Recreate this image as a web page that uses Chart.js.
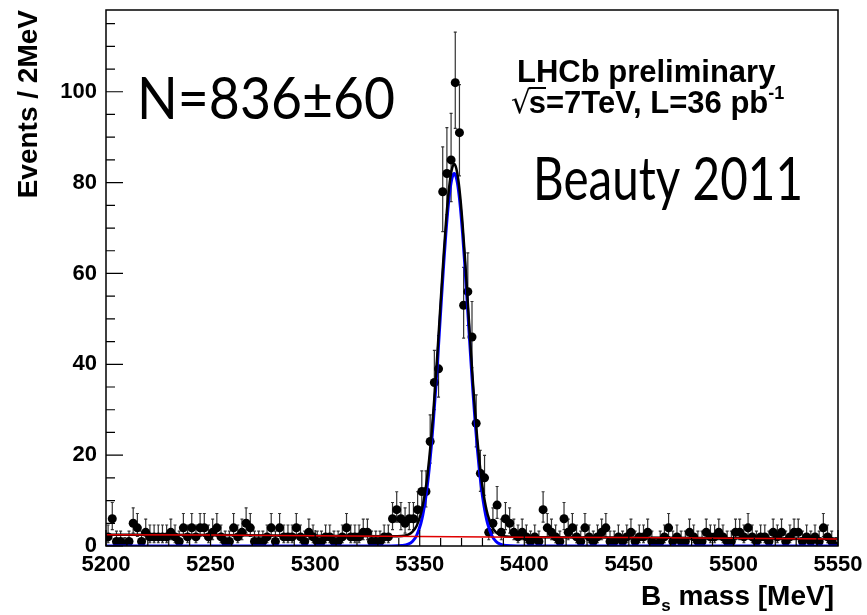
<!DOCTYPE html>
<html>
<head>
<meta charset="utf-8">
<script src="https://cdn.jsdelivr.net/npm/chart.js@4.4.1/dist/chart.umd.min.js"></script>
<style>
  html, body { margin: 0; padding: 0; background: #fff; }
  #wrap { width: 867px; height: 615px; }
</style>
</head>
<body>
<div id="wrap"><canvas id="bsMassChart" width="867" height="615"></canvas></div>
<script>
// --- bin centres (2 MeV bins, 5200 -> 5550) ---
const binCenters = [
  5201,5203,5205,5207,5209,5211,5213,5215,5217,5219,5221,5223,5225,5227,5229,5231,5233,5235,5237,5239,5241,5243,5245,5247,5249,
  5251,5253,5255,5257,5259,5261,5263,5265,5267,5269,5271,5273,5275,5277,5279,5281,5283,5285,5287,5289,5291,5293,5295,5297,5299,
  5301,5303,5305,5307,5309,5311,5313,5315,5317,5319,5321,5323,5325,5327,5329,5331,5333,5335,5337,5339,5341,5343,5345,5347,5349,
  5351,5353,5355,5357,5359,5361,5363,5365,5367,5369,5371,5373,5375,5377,5379,5381,5383,5385,5387,5389,5391,5393,5395,5397,5399,
  5401,5403,5405,5407,5409,5411,5413,5415,5417,5419,5421,5423,5425,5427,5429,5431,5433,5435,5437,5439,5441,5443,5445,5447,5449,
  5451,5453,5455,5457,5459,5461,5463,5465,5467,5469,5471,5473,5475,5477,5479,5481,5483,5485,5487,5489,5491,5493,5495,5497,5499,
  5501,5503,5505,5507,5509,5511,5513,5515,5517,5519,5521,5523,5525,5527,5529,5531,5533,5535,5537,5539,5541,5543,5545,5547,5549
];

// events per bin
const counts = [
  2,6,1,1,0,1,5,4,1,3,2,2,2,2,2,3,2,1,4,2,4,2,4,4,2,
  3,4,2,1,1,4,2,3,5,4,1,1,1,2,4,1,4,2,2,2,4,2,1,3,2,
  1,1,2,2,1,1,2,4,2,2,2,3,3,1,1,1,2,2,6,8,6,5,6,6,8,
  12,12,23,36,39,78,82,85,102,91,53,56,46,27,16,15,3,5,9,3,6,5,3,2,3,
  2,1,2,1,8,4,3,2,1,6,3,4,2,1,4,2,1,2,3,4,1,1,2,1,2,
  3,1,2,2,3,1,0,1,2,4,1,2,1,1,3,2,1,1,3,2,2,3,2,1,1,
  3,3,2,4,2,1,2,2,1,3,2,3,1,2,3,3,1,2,1,2,1,4,2,1,0
];

// fit curves
const sigMass = [5200,5336.5,5341.5,5344.5,5346.5,5348.5,5350.5,5351.5,5352.5,5353.5,5354.5,5355.5,5356.5,5357.5,5358.5,5359.5,5360.5,5361.5,5362.5,5363.5,5364.5,5365.5,
  5366.5,5367.5,5368.5,5369.5,5370.5,5371.5,5372.5,5373.5,5374.5,5375.5,5376.5,5377.5,5378.5,5379.5,5380.5,5381.5,5382.5,5384.5,5386.5,5388.5,5391.5,5396.5,5550];
const sigFit = [0,0,0.1,0.4,1.0,2.3,4.9,6.9,9.5,12.8,16.9,21.7,27.4,33.7,40.6,47.9,55.2,62.3,68.8,74.3,78.5,81.1,
  82,81.1,78.5,74.3,68.8,62.3,55.2,47.9,40.6,33.7,27.4,21.7,16.9,12.8,9.5,6.9,4.9,2.3,1.0,0.4,0.1,0,0];

const bkgMass = [5200,5250,5300,5350,5400,5450,5500,5550];
const bkgFit = [2.5,2.4,2.25,2.1,1.95,1.85,1.7,1.55];

const totMass = [5200,5250,5300,5336.5,5341.5,5344.5,5346.5,5348.5,5350.5,5351.5,5352.5,5353.5,5354.5,5355.5,5356.5,5357.5,5358.5,5359.5,5360.5,5361.5,5362.5,5363.5,5364.5,5365.5,
  5366.5,5367.5,5368.5,5369.5,5370.5,5371.5,5372.5,5373.5,5374.5,5375.5,5376.5,5377.5,5378.5,5379.5,5380.5,5381.5,5382.5,5384.5,5386.5,5388.5,5391.5,5396.5,5400,5450,5500,5550];
const totFit = [2.5,2.4,2.25,2.15,2.2,2.5,3.1,4.4,7.0,9.0,11.6,14.9,19.0,23.8,29.5,35.8,42.7,50.0,57.3,64.4,70.9,76.4,80.6,83.2,
  84.1,83.1,80.5,76.3,70.8,64.3,57.2,49.9,42.6,35.7,29.4,23.7,18.9,14.8,11.5,8.9,6.9,4.3,3.0,2.4,2.1,2.0,1.95,1.85,1.7,1.55];

const xTicks = [5200,5250,5300,5350,5400,5450,5500,5550];
const yTicks = [0,20,40,60,80,100];

const FONT_AXIS = 'Liberation Sans, Arial, Helvetica, sans-serif';
const FONT_BIG = 'Lato, Open Sans, sans-serif';

function toXY(xs, ys) {
    return xs.map((x, i) => ({ x: x, y: ys[i] }));
}

// poisson 68% interval (Wilson-Hilferty approx), like RooFit data errors
function poissonErr(n) {
    const up = (n + 1) * Math.pow(1 - 1 / (9 * (n + 1)) + 1 / (3 * Math.sqrt(n + 1)), 3);
    let lo = 0;
    if (n > 0) lo = n * Math.pow(1 - 1 / (9 * n) - 1 / (3 * Math.sqrt(n)), 3);
    return [n - lo, up - n];
}

// draw text squeezed/stretched to a given width (Gill Sans look-alike)
function fitText(ctx, text, x, y, w) {
    const nat = ctx.measureText(text).width;
    ctx.save();
    ctx.translate(x, y);
    ctx.scale(w / nat, 1);
    ctx.fillText(text, 0, 0);
    ctx.restore();
}

// error bars drawn under the markers
const errorBarsPlugin = {
    id: 'errorBars',
    beforeDatasetDraw(chart, args) {
        if (args.index !== 0) return;
        const ctx = chart.ctx;
        const xs = chart.scales.x, ys = chart.scales.y;
        ctx.save();
        ctx.strokeStyle = '#333';
        ctx.lineWidth = 1.2;
        counts.forEach((n, i) => {
            const e = poissonErr(n);
            const px = xs.getPixelForValue(binCenters[i]);
            const yTop = ys.getPixelForValue(n + e[1]);
            const yBot = ys.getPixelForValue(Math.max(0, n - e[0]));
            ctx.beginPath();
            ctx.moveTo(px, yTop); ctx.lineTo(px, yBot);
            ctx.moveTo(px - 1.5, yTop); ctx.lineTo(px + 1.5, yTop);
            if (n > 0) { ctx.moveTo(px - 1.5, yBot); ctx.lineTo(px + 1.5, yBot); }
            ctx.stroke();
        });
        ctx.restore();
    }
};

// ROOT style frame with ticks pointing inwards
const frameTicksPlugin = {
    id: 'frameTicks',
    afterDraw(chart) {
        const ctx = chart.ctx;
        const a = chart.chartArea;
        const xs = chart.scales.x, ys = chart.scales.y;
        ctx.save();
        ctx.strokeStyle = '#000';
        ctx.lineWidth = 1.5;
        ctx.strokeRect(a.left, a.top, a.right - a.left, a.bottom - a.top);
        ctx.lineWidth = 1.2;
        ctx.beginPath();
        for (let v = 5200; v <= 5550; v += 10) {
            const px = xs.getPixelForValue(v);
            const len = (v % 50 === 0) ? 16 : 8;
            ctx.moveTo(px, a.bottom); ctx.lineTo(px, a.bottom - len);
        }
        for (let v = 0; v <= ys.max; v += 5) {
            const py = ys.getPixelForValue(v);
            const len = (v % 20 === 0) ? 17 : 9;
            ctx.moveTo(a.left, py); ctx.lineTo(a.left + len, py);
        }
        ctx.stroke();
        ctx.restore();
    }
};

// text on the pad: labels, x title with subscript
const padTextPlugin = {
    id: 'padText',
    afterDraw(chart) {
        const ctx = chart.ctx;
        ctx.save();
        ctx.fillStyle = '#000';
        ctx.textBaseline = 'alphabetic';

        // x axis title, right aligned: B_s mass [MeV]
        const big = 'bold 28px ' + FONT_AXIS, sub = 'bold 17px ' + FONT_AXIS;
        ctx.font = big;
        const wB = ctx.measureText('B').width, wRest = ctx.measureText(' mass [MeV]').width;
        ctx.font = sub;
        const wS = ctx.measureText('s').width;
        let x = 834 - (wB + wS + wRest);
        const yb = 605;
        ctx.font = big; ctx.fillText('B', x, yb); x += wB;
        ctx.font = sub; ctx.fillText('s', x, yb + 6); x += wS;
        ctx.font = big; ctx.fillText(' mass [MeV]', x, yb);

        // LHCb label
        ctx.font = 'bold 31px ' + FONT_AXIS;
        ctx.fillText('LHCb preliminary', 517, 82);
        let lx = 511, ly = 113;
        ctx.font = '31px DejaVu Sans, sans-serif';
        ctx.fillText('\u221A', lx, ly);
        lx += ctx.measureText('\u221A').width - 2;
        ctx.font = 'bold 31px ' + FONT_AXIS;
        const wSmall = ctx.measureText('s').width;
        ctx.fillText('s', lx, ly);
        ctx.fillRect(lx, ly - 26, wSmall, 2);
        lx += wSmall;
        const line2 = '=7TeV, L=36 pb';
        ctx.fillText(line2, lx, ly);
        lx += ctx.measureText(line2).width;
        ctx.font = 'bold 18px ' + FONT_AXIS;
        ctx.fillText('-1', lx, ly - 14);

        // big labels
        ctx.font = '59px ' + FONT_BIG;
        fitText(ctx, 'N=836\u00B160', 137, 119, 258);
        ctx.font = '60px ' + FONT_BIG;
        fitText(ctx, 'Beauty 2011', 533, 200, 270);
        ctx.restore();
    }
};

const canvas = document.getElementById('bsMassChart');
const ctx = canvas.getContext('2d');

new Chart(ctx, {
    type: 'scatter',
    data: {
        datasets: [
            {
                label: 'data',
                data: toXY(binCenters, counts),
                pointRadius: 4.5,
                pointBackgroundColor: '#000',
                pointBorderWidth: 0,
                showLine: false,
                order: 4
            },
            {
                label: 'signal',
                type: 'line',
                data: toXY(sigMass, sigFit),
                borderColor: '#0000ff',
                borderWidth: 3,
                pointRadius: 0,
                fill: false,
                cubicInterpolationMode: 'monotone',
                order: 3
            },
            {
                label: 'total',
                type: 'line',
                data: toXY(totMass, totFit),
                borderColor: '#000',
                borderWidth: 2.5,
                pointRadius: 0,
                fill: false,
                cubicInterpolationMode: 'monotone',
                order: 2
            },
            {
                // background on top, thin, so it shows dark red where it meets the total
                label: 'background',
                type: 'line',
                data: toXY(bkgMass, bkgFit),
                borderColor: '#e00000',
                borderWidth: 1.5,
                pointRadius: 0,
                fill: false,
                order: 1
            }
        ]
    },
    options: {
        responsive: false,
        animation: false,
        layout: { padding: { top: 10, right: 29, left: 0, bottom: 0 } },
        plugins: {
            legend: { display: false },
            tooltip: { enabled: false }
        },
        scales: {
            x: {
                type: 'linear',
                min: 5200,
                max: 5550,
                afterFit: s => { s.height = 69; s.paddingLeft = 0; s.paddingRight = 0; },
                afterBuildTicks: s => { s.ticks = xTicks.map(v => ({ value: v })); },
                grid: { display: false, drawTicks: false },
                border: { display: false },
                ticks: {
                    padding: 6,
                    maxRotation: 0,
                    autoSkip: false,
                    color: '#000',
                    callback: v => String(v),
                    font: { family: FONT_AXIS, weight: 'bold', size: 22 }
                }
            },
            y: {
                type: 'linear',
                min: 0,
                max: 118,
                afterFit: s => { s.width = 106; s.paddingTop = 0; s.paddingBottom = 0; },
                afterBuildTicks: s => { s.ticks = yTicks.map(v => ({ value: v })); },
                grid: { display: false, drawTicks: false },
                border: { display: false },
                ticks: {
                    padding: 9,
                    color: '#000',
                    callback: v => String(v),
                    font: { family: FONT_AXIS, weight: 'bold', size: 22 }
                },
                title: {
                    display: true,
                    text: 'Events / 2MeV',
                    align: 'end',
                    color: '#000',
                    font: { family: FONT_AXIS, weight: 'bold', size: 28 },
                    padding: { top: 12, bottom: 0 }
                }
            }
        }
    },
    plugins: [errorBarsPlugin, frameTicksPlugin, padTextPlugin]
});
</script>
</body>
</html>
